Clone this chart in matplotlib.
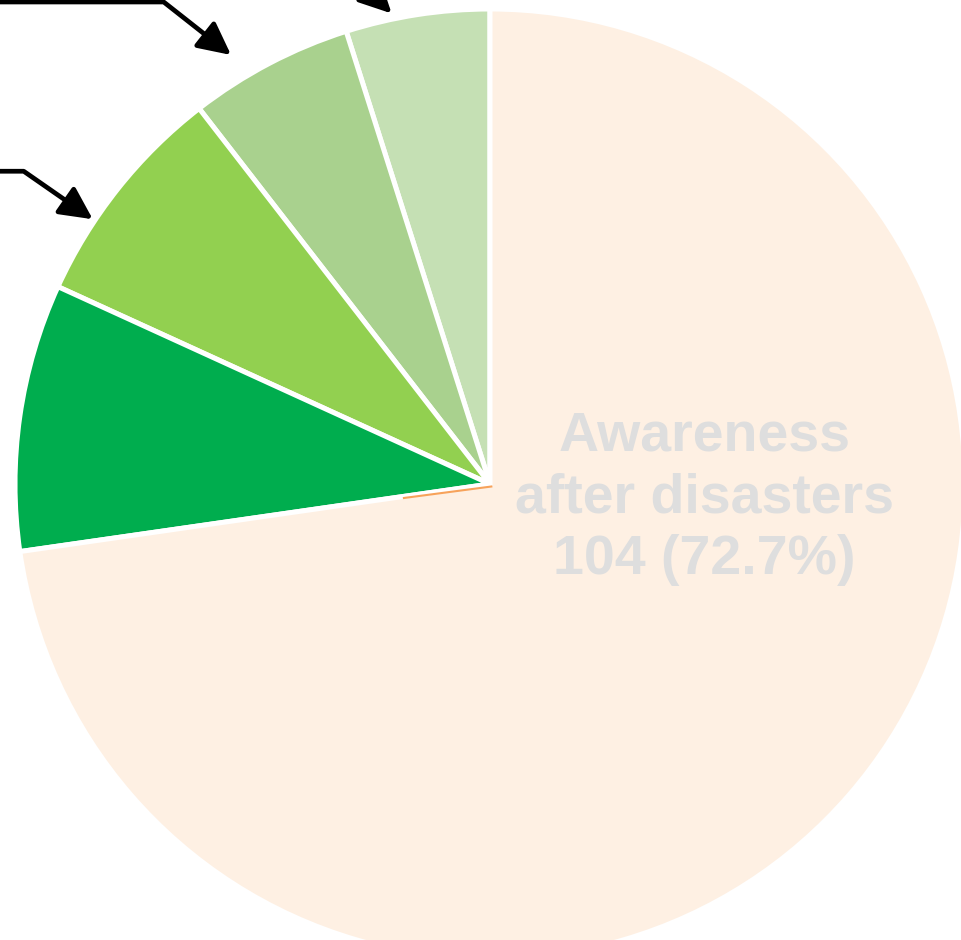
import math
import matplotlib
matplotlib.use("Agg")
import matplotlib.pyplot as plt

# slices, counter-clockwise from 12 o'clock
categories = ["Category E", "Category D", "Category C", "Category B", "Awareness after disasters"]
counts = [7, 8, 11, 13, 104]
colors = ["#C5E0B4", "#A9D18E", "#92D050", "#00AD4E", "#FEF0E3"]
main_label = "Awareness\nafter disasters\n104 (72.7%)"


def main():
    fig = plt.figure(figsize=(9.61, 9.40), dpi=100)
    ax = fig.add_axes([0, 0, 1, 1])

    R = 475.0
    cx, cy = 490.0, 484.0
    wedges, _ = ax.pie(
        counts,
        colors=colors,
        startangle=90,
        counterclock=True,
        radius=1.0,
        wedgeprops=dict(edgecolor="white", linewidth=3.6),
    )

    # view window: pie centre sits at (490, 484) px, radius 475 px
    ax.set_xlim(-cx / R, (961 - cx) / R)
    ax.set_ylim(-(940 - cy) / R, cy / R)
    ax.set_aspect("equal")
    ax.axis("off")

    # thin orange edge between the dark green slice and the big slice
    a = math.radians(wedges[3].theta2 - 0.7)
    ax.plot([0.005, 0.005 + 0.19 * math.cos(a)], [-0.005, -0.005 + 0.19 * math.sin(a)],
            color="#F7A25A", lw=1.5, solid_capstyle="butt", zorder=5)

    # label of the big slice
    ax.text(0.452, -0.03, main_label, ha="center", va="center",
            fontsize=40, fontweight="bold", family="Liberation Sans",
            color="#DEDEDE", linespacing=1.25)

    # leader arrows for the small slices (labels lie outside the crop)
    arrows = [
        (0, 1.012, (-40, 40), "arc3"),
        (1, 1.055, (-300, 53), "angle,angleA=0,angleB=141.8,rad=0"),
        (2, 1.005, (-200, 48), "angle,angleA=0,angleB=145.2,rad=0"),
        (3, 1.030, (-120, 40), "angle,angleA=0,angleB=145,rad=0"),
    ]
    for idx, r, off, conn in arrows:
        w = wedges[idx]
        t = math.radians(w.theta1 + 0.67 * (w.theta2 - w.theta1))
        ax.annotate("", xy=(r * math.cos(t), r * math.sin(t)),
                    xytext=off, textcoords="offset pixels",
                    annotation_clip=False,
                    arrowprops=dict(arrowstyle="-|>,head_length=0.9,head_width=0.45",
                                    mutation_scale=22, color="black", lw=3.4,
                                    connectionstyle=conn, shrinkA=0, shrinkB=0))

    fig.savefig("out.png", dpi=100, facecolor="white")


if __name__ == "__main__":
    main()
